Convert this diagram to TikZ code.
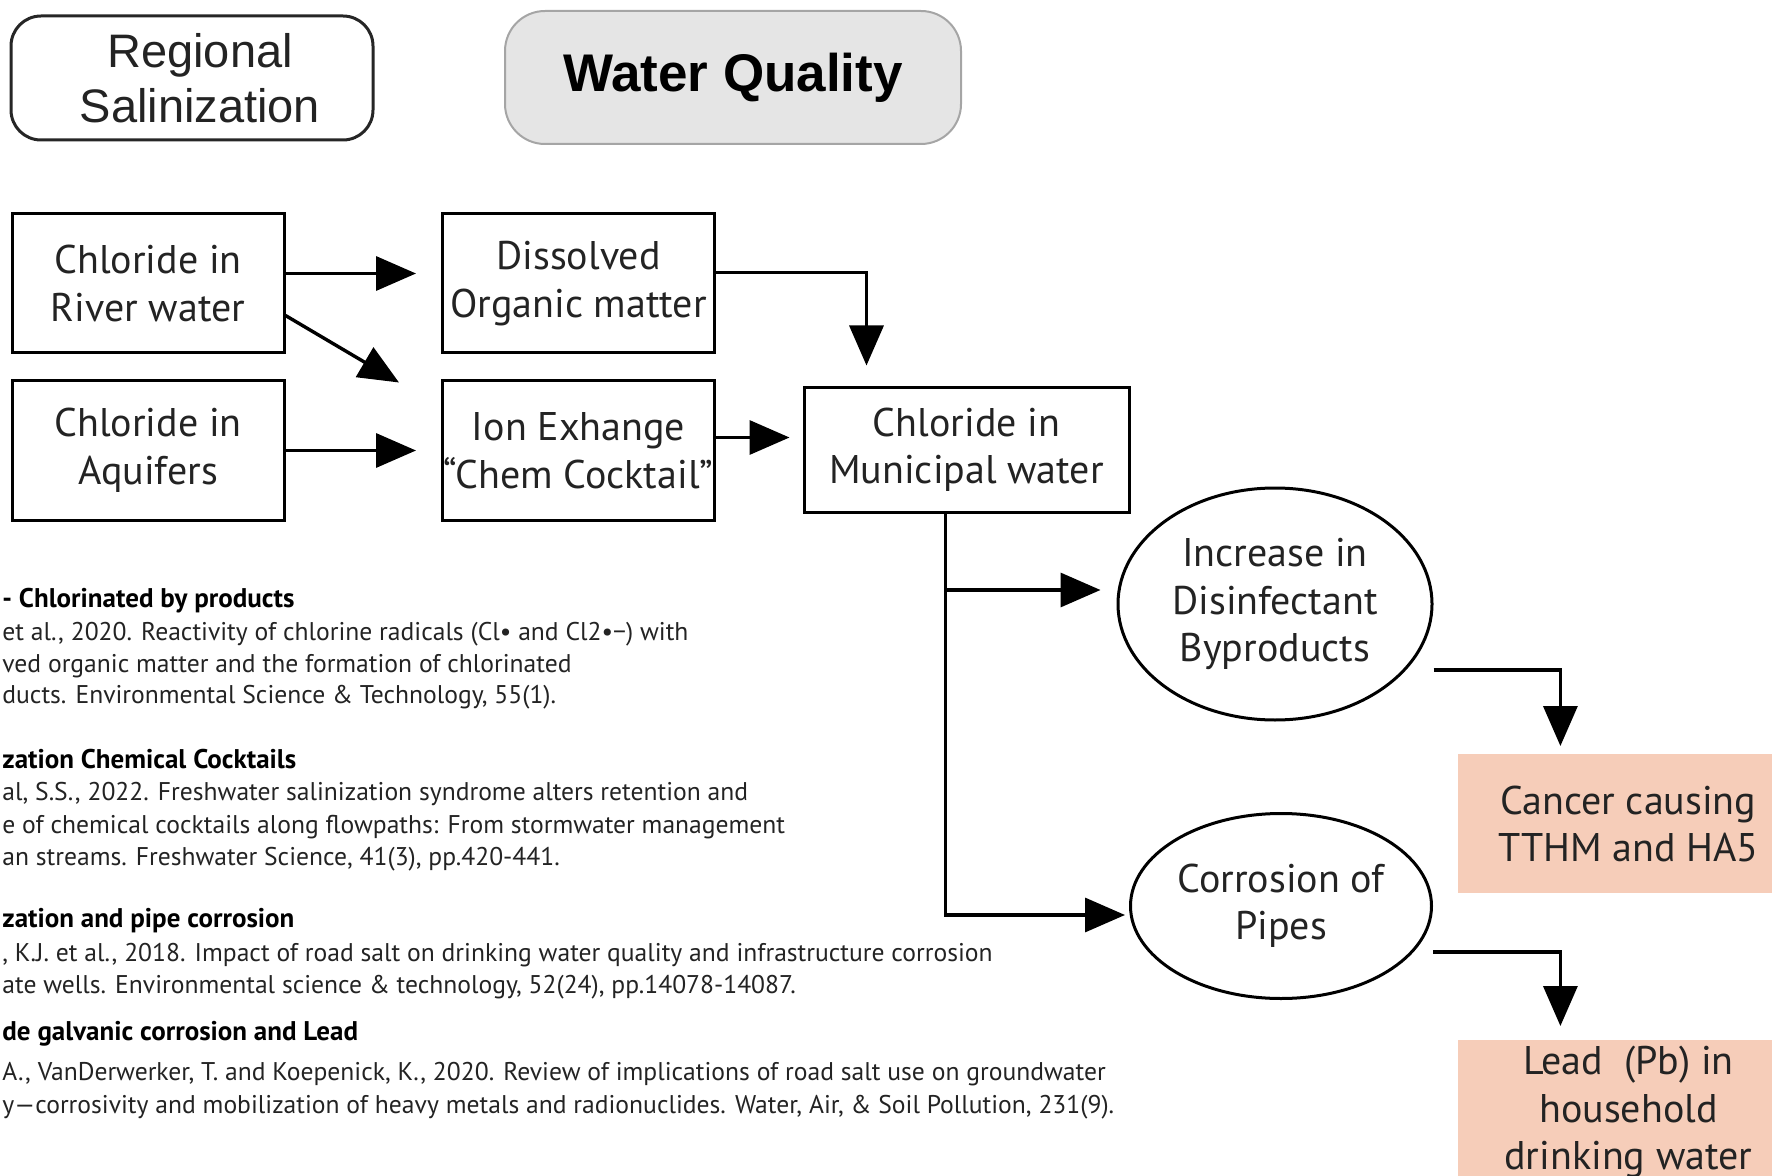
\documentclass[tikz,border=0pt]{standalone}
\usepackage{fontspec}
\setmainfont{PT Sans}
\newfontfamily\arialf{Liberation Sans}
\usetikzlibrary{arrows.meta,shapes.geometric,calc}
\definecolor{peach}{RGB}{246,205,185}
\definecolor{wqfill}{RGB}{229,229,229}
\definecolor{wqdraw}{RGB}{165,165,165}
\definecolor{txt}{RGB}{35,35,35}
\begin{document}
\begin{tikzpicture}[x=0.5pt,y=-0.5pt,
  flowbox/.style={draw=black, line width=1.5pt, minimum width=136pt, minimum height=69.5pt, inner sep=0pt, align=center, font=\fontsize{20}{23.75}\selectfont, text=txt},
  oval/.style={ellipse, draw=black, line width=1.5pt, inner sep=0pt, align=center, font=\fontsize{20}{23.75}\selectfont, text=txt},
  outcome/.style={fill=peach, anchor=north west, minimum width=170pt, inner xsep=0pt, align=center, font=\fontsize{20}{23.75}\selectfont, text=txt},
  arr/.style={line width=1.7pt, -{Triangle[length=20pt,width=17pt]}},
  refhead/.style={anchor=west, inner sep=0pt, font=\fontsize{13.5}{15}\selectfont\bfseries, text=black},
  refline/.style={anchor=west, inner sep=0pt, font=\fontsize{12.8}{15}\selectfont, text=txt},
]
\useasboundingbox (0,0) rectangle (1772,1176);
\clip (0,0) rectangle (1772,1176);

\node[draw=black!85, line width=1.5pt, rounded corners=15pt, minimum width=181pt, minimum height=62pt, align=center, inner sep=0pt, font=\arialf\fontsize{23.5}{27.5}\selectfont, text=txt] (regional) at (192,78) {\hspace*{8pt}Regional\\\hspace*{8pt}Salinization};
\node[draw=wqdraw, fill=wqfill, line width=1pt, rounded corners=20pt, minimum width=228pt, minimum height=66.5pt, inner sep=0pt, font=\arialf\bfseries\fontsize{26.5}{30}\selectfont] (wq) at (733,77.5) {Water Quality};

\node[flowbox] (river) at (148,283.5) {Chloride in\\River water};
\node[flowbox] (aquifer) at (148,450.5) {Chloride in\\Aquifers};
\node[flowbox] (dom) at (578.5,283.5) {Dissolved\\Organic matter};
\node[flowbox] (ion) at (578.5,450.5) {Ion Exhange\\“Chem Cocktail”};
\node[flowbox, minimum width=162.5pt, minimum height=62pt] (muni) at (966.5,450) {Chloride in\\Municipal water};
\node[oval, minimum width=157pt, minimum height=116pt] (inc) at (1275,604) {Increase in\\Disinfectant\\Byproducts};
\node[oval, minimum width=150.5pt, minimum height=92.5pt] (cor) at (1281,906) {Corrosion of\\Pipes};
\node[outcome, minimum height=69.5pt] (cancer) at (1458,754) {Cancer causing\\TTHM and HA5};
\node[outcome, inner ysep=3pt] (lead) at (1458,1040) {Lead\ \ (Pb) in\\household\\drinking water};

\draw[arr, shorten >=12.5pt] ([yshift=5pt]river.east) -- ([yshift=5pt]dom.west);
\draw[arr] ([yshift=-16pt]river.east) -- ([xshift=-21pt,yshift=-1.5pt]ion.north west);
\draw[arr, shorten >=12.5pt] (aquifer.east) -- (ion.west);
\draw[arr, shorten >=10.5pt] ([yshift=5.5pt]dom.east) -| ([xshift=-50pt]muni.north);
\draw[arr, shorten >=6.5pt] ([yshift=6.5pt]ion.east) -- ([yshift=6.5pt]ion.east -| muni.west);

\coordinate (trunk) at ([xshift=-10.5pt]muni.south);
\coordinate (b1) at (trunk |- 0,590);
\draw[arr, shorten >=2pt] (trunk) |- ([yshift=-4.5pt]cor.west);
\draw[arr, shorten >=8pt] (b1) -- (b1 -| inc.west);
\draw[arr, shorten >=4pt] ([yshift=-33pt]inc.east) -| ([xshift=-34pt]cancer.north);
\draw[arr, shorten >=7pt] ([yshift=-23pt]cor.east) -| ([xshift=-34pt]lead.north);

\node[refhead] (r1h) at (2,601) {- Chlorinated by products};
\node[refline] (r1a) at (2,634) {et al., 2020. Reactivity of chlorine radicals (Cl• and Cl2•−) with};
\node[refline] (r1b) at (2,666) {ved organic matter and the formation of chlorinated};
\node[refline] (r1c) at (2,697) {ducts. Environmental Science \& Technology, 55(1).};

\node[refhead] (r2h) at (2,759) {zation Chemical Cocktails};
\node[refline] (r2a) at (2,794) {al, S.S., 2022. Freshwater salinization syndrome alters retention and};
\node[refline] (r2b) at (2,827) {e of chemical cocktails along flowpaths: From stormwater management};
\node[refline] (r2c) at (2,859) {an streams. Freshwater Science, 41(3), pp.420-441.};

\node[refhead] (r3h) at (2,921) {zation and pipe corrosion};
\node[refline] (r3a) at (2,955) {, K.J. et al., 2018. Impact of road salt on drinking water quality and infrastructure corrosion};
\node[refline] (r3b) at (2,987) {ate wells. Environmental science \& technology, 52(24), pp.14078-14087.};

\node[refhead] (r4h) at (2,1034) {de galvanic corrosion and Lead};
\node[refline] (r4a) at (2,1074) {A., VanDerwerker, T. and Koepenick, K., 2020. Review of implications of road salt use on groundwater};
\node[refline] (r4b) at (2,1107) {y—corrosivity and mobilization of heavy metals and radionuclides. Water, Air, \& Soil Pollution, 231(9).};
\end{tikzpicture}
\end{document}
